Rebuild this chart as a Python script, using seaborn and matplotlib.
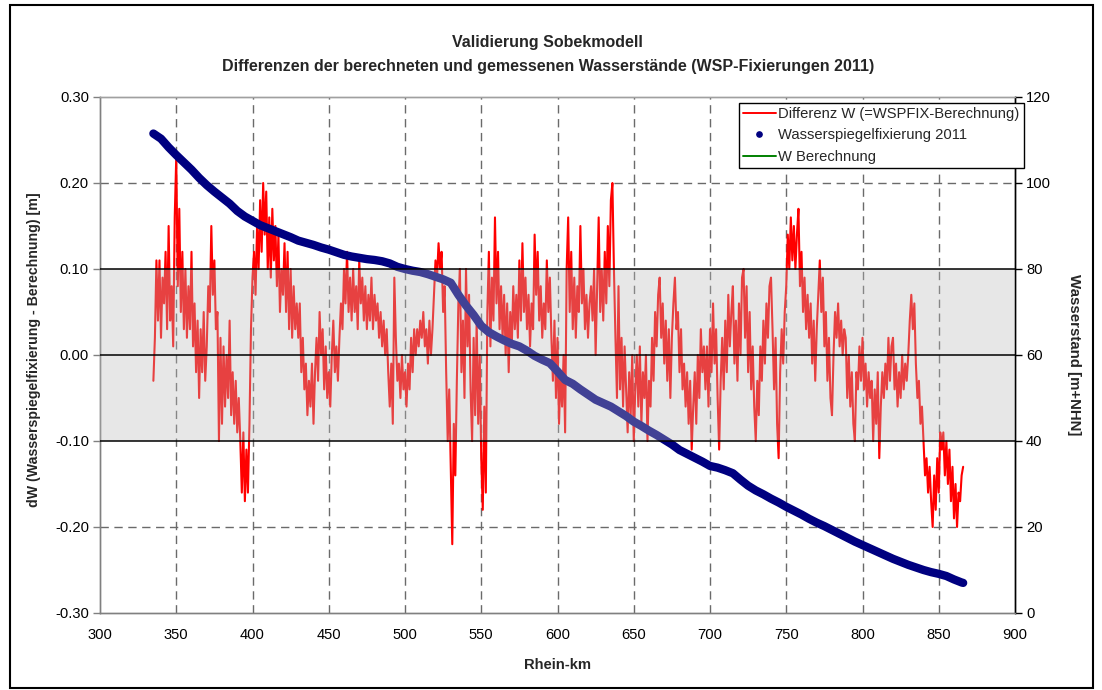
import numpy as np
import pandas as pd
import matplotlib
matplotlib.use("Agg")
import matplotlib.pyplot as plt
import seaborn as sns
from matplotlib.lines import Line2D
from matplotlib.patches import Rectangle
from matplotlib.transforms import blended_transform_factory

# Differenz W (=WSPFIX - Berechnung) [m], one value per Rhein-km, split in stretches
dw_start_a = 335
dw_a = [-0.03, 0.02, 0.11, 0.04, 0.11, 0.02, 0.09, 0.06, 0.12, 0.03,
        0.15, 0.04, 0.08, 0.01, 0.16, 0.23, 0.08, 0.17, 0.05, 0.12,
        0.03, 0.10, 0.02, 0.08, 0.03, 0.12, 0.01, 0.06, -0.02, 0.04,
        -0.05, 0.03, -0.02, 0.05, -0.03, 0.01, 0.08, 0.05, 0.15, 0.07,
        0.11, 0.03, 0.05, -0.10, 0.02, -0.08, 0.01, -0.06, 0.00, -0.05,
        0.04, -0.07, -0.02, -0.08, -0.03, -0.09, -0.05, -0.10, -0.16, -0.09,
        -0.17, -0.11, -0.16, -0.08, 0.03, 0.09, 0.12, 0.07, 0.15, 0.10,
        0.18, 0.12, 0.20, 0.14, 0.19, 0.10, 0.16, 0.09, 0.17, 0.11,
        0.15, 0.08, 0.14, 0.05, 0.10, 0.07]

dw_start_b = 421
dw_b = [0.13, 0.05, 0.12, 0.03, 0.10, 0.02, 0.08, 0.03, 0.06, 0.02,
        0.06, -0.02, 0.02, -0.04, -0.01, -0.07, -0.03, -0.06, -0.01, -0.08,
        -0.02, 0.02, -0.03, 0.05, 0.00, 0.03, -0.04, 0.01, -0.05, -0.02,
        -0.06, 0.00, 0.04, -0.02, 0.01, -0.03, 0.02, 0.06, 0.03, 0.10,
        0.06, 0.12, 0.05, 0.09, 0.04, 0.10, 0.05, 0.08, 0.03, 0.11,
        0.06, 0.09, 0.04, 0.08, 0.03, 0.07, 0.04, 0.09, 0.03, 0.07,
        0.04, 0.06, 0.02, 0.05, 0.01, 0.04, 0.00, 0.03, -0.02, -0.06,
        -0.01, -0.08, 0.09, 0.02, -0.03, -0.01, -0.05, 0.00, -0.04, -0.02,
        -0.06, -0.01, -0.04, 0.02, -0.02, 0.03, 0.00, 0.03, 0.01, 0.04,
        0.02, 0.05, 0.01]

dw_start_c = 514
dw_c = [0.03, -0.01, 0.04, 0.00, 0.03, 0.07, 0.11, 0.09, 0.13, 0.10,
        0.12, 0.05, 0.08, -0.02, -0.10, -0.04, -0.13, -0.22, -0.08, -0.14,
        -0.03, 0.06, 0.10, -0.02, 0.04, -0.05, 0.10, 0.01, 0.07, -0.04,
        -0.10, 0.02, -0.07, 0.04, -0.08, 0.00, -0.12, -0.18, -0.06, -0.16,
        0.05, 0.12, 0.01, 0.09, 0.04, 0.16, 0.06, 0.12, 0.03, 0.08,
        0.02, 0.07, 0.00, 0.06, -0.02, 0.05, 0.01, 0.08, 0.03, 0.07,
        0.02, 0.11, 0.04, 0.13, 0.05, 0.09, 0.03, 0.07, 0.01, 0.06,
        0.03, 0.14, 0.07, 0.12, 0.04, 0.08, 0.02, 0.06, 0.03, 0.11,
        0.05, 0.09, 0.02, -0.03, 0.04, -0.05, 0.02, -0.08, -0.02, -0.06,
        0.00, -0.09]

dw_start_d = 606
dw_d = [0.10, 0.16, 0.05, 0.12, 0.03, 0.09, 0.02, 0.08, 0.05, 0.15,
        0.06, 0.10, 0.03, 0.07, 0.02, 0.06, 0.08, 0.04, 0.10, 0.00,
        0.08, 0.16, 0.05, 0.10, 0.04, 0.12, 0.06, 0.15, 0.08, 0.18,
        0.20, 0.10, 0.02, -0.05, 0.08, -0.04, 0.02, -0.06, 0.01, -0.04,
        -0.09, -0.02, -0.07, 0.00, -0.10, -0.04, 0.00, -0.06, 0.01, -0.08,
        -0.02, -0.05, 0.00, -0.10, -0.03, -0.06, 0.02, -0.03, 0.05, 0.01,
        0.07, 0.09, 0.02, 0.06, -0.01, 0.04, -0.03, 0.03, -0.05, 0.02,
        0.06, 0.09, 0.03, 0.05, -0.02, 0.03, -0.04, -0.01, -0.06, -0.02,
        -0.08, -0.03, -0.11, -0.06, -0.02, -0.08, 0.00, -0.05, 0.03, -0.02,
        0.01, -0.04]

dw_start_e = 698
dw_e = [0.01, -0.06, 0.03, -0.02, 0.06, -0.01, 0.03, -0.05, -0.11, -0.03,
        0.02, -0.04, 0.04, -0.02, 0.07, 0.01, 0.05, 0.08, -0.01, 0.04,
        -0.03, 0.06, 0.00, 0.09, 0.10, 0.02, 0.08, -0.02, 0.05, -0.04,
        0.01, -0.06, -0.10, -0.03, -0.07, 0.01, -0.03, 0.04, -0.01, 0.06,
        0.02, 0.08, 0.09, 0.03, -0.04, 0.02, -0.08, -0.12, -0.02, 0.03,
        -0.01, 0.05, 0.08, 0.14, 0.10, 0.16, 0.11, 0.15, 0.10, 0.14,
        0.17, 0.08, 0.12, 0.05, 0.09, 0.03, 0.07, 0.02, 0.06, -0.01,
        0.04, -0.03, 0.03, 0.07, 0.11, 0.05, 0.09, 0.01, 0.05, -0.03,
        0.02, -0.05, -0.07, 0.00, 0.05, 0.02, 0.06, 0.01, 0.04, 0.00,
        0.03]

dw_start_f = 789
dw_f = [0.02, -0.05, 0.00, -0.06, -0.02, -0.08, -0.10, -0.02, -0.04, 0.01,
        -0.03, 0.02, -0.04, -0.01, -0.06, -0.02, -0.05, -0.03, -0.10, -0.04,
        -0.08, -0.02, -0.12, -0.06, -0.02, -0.05, -0.01, -0.04, 0.02, -0.03,
        0.01, 0.02, -0.04, -0.01, -0.06, -0.02, -0.05, 0.00, -0.04, -0.01,
        -0.03, 0.00, 0.04, 0.07, 0.03, 0.06, -0.01, -0.05, -0.03, -0.08,
        -0.06, -0.10, -0.14, -0.12, -0.16, -0.13, -0.17, -0.20, -0.14, -0.18,
        -0.12, -0.16, -0.09, -0.11, -0.09, -0.14, -0.10, -0.15, -0.11, -0.17,
        -0.13, -0.19, -0.15, -0.20, -0.16, -0.17, -0.14, -0.13]

# Wasserspiegelfixierung 2011 [m+NHN]
km_fix = [335, 340, 345, 350, 355, 360, 365, 370, 375, 380, 385, 390, 395, 400,
          405, 410, 415, 420, 425, 430, 435, 440, 445, 450, 455, 460, 465, 470,
          475, 480, 485, 490, 495, 500, 505, 510, 515, 520, 525, 530, 535, 540,
          545, 550, 555, 560, 565, 570, 575, 580, 585, 590, 595, 600, 605, 610,
          615, 620, 625, 630, 635, 640, 645, 650, 655, 660, 665, 670, 675, 680,
          685, 690, 695, 700, 705, 710, 715, 720, 725, 730, 735, 740, 745, 750,
          755, 760, 765, 770, 775, 780, 785, 790, 795, 800, 805, 810, 815, 820,
          825, 830, 835, 840, 845, 850, 855, 860, 865, 866]
w_fix = [111.5, 110.3, 108.3, 106.5, 104.8, 103.1, 101.2, 99.5, 98.0, 96.6,
         95.2, 93.5, 92.2, 91.2, 90.2, 89.5, 88.8, 88.1, 87.4, 86.6, 86.1,
         85.6, 85.0, 84.5, 83.9, 83.3, 82.9, 82.6, 82.3, 82.1, 81.8, 81.3,
         80.5, 80.0, 79.6, 79.3, 78.8, 78.2, 77.6, 76.8, 74.0, 71.5, 69.3,
         66.8, 65.3, 64.3, 63.4, 62.6, 62.0, 61.0, 59.8, 58.9, 58.1, 56.2,
         54.2, 53.3, 52.0, 50.8, 49.6, 48.8, 48.0, 46.9, 45.8, 44.5, 43.5,
         42.4, 41.4, 40.3, 39.2, 37.9, 37.0, 36.1, 35.2, 34.2, 33.8, 33.2,
         32.5, 31.0, 29.6, 28.5, 27.6, 26.6, 25.7, 24.7, 23.8, 22.9, 21.9,
         21.0, 20.2, 19.3, 18.4, 17.5, 16.6, 15.8, 15.0, 14.2, 13.4, 12.6,
         11.9, 11.2, 10.6, 10.0, 9.5, 9.1, 8.6, 7.8, 7.1, 7.0]

title_lines = ["Validierung Sobekmodell",
               "Differenzen der berechneten und gemessenen Wasserstände (WSP-Fixierungen 2011)"]
label_dw = "Differenz W (=WSPFIX-Berechnung)"
label_fix = "Wasserspiegelfixierung 2011"
label_calc = "W Berechnung"

# ---- assemble tables -------------------------------------------------------
segments = [(dw_start_a, dw_a), (dw_start_b, dw_b), (dw_start_c, dw_c),
            (dw_start_d, dw_d), (dw_start_e, dw_e), (dw_start_f, dw_f)]
dw_df = pd.concat(
    [pd.DataFrame({"km": start + np.arange(len(vals)), "dW": vals}) for start, vals in segments],
    ignore_index=True)
fix_df = pd.DataFrame({"km": km_fix, "W": w_fix})

sns.set_theme(style="white")
plt.rcParams["font.family"] = ["Liberation Sans", "DejaVu Sans"]

fig = plt.figure(figsize=(11.02, 6.9), dpi=100)
ax = fig.add_axes([100 / 1102, 77 / 690, 915 / 1102, 516 / 690])
ax2 = ax.twinx()

# grid (dashed) underneath the series
for xv in range(350, 900, 50):
    ax.axvline(xv, color="#6a6a6a", lw=1.0, ls=(0, (6, 4)), zorder=0.5)
for yv in (-0.2, 0.2):
    ax.axhline(yv, color="#6a6a6a", lw=1.0, ls=(0, (6, 4)), zorder=0.5)

sns.lineplot(data=dw_df, x="km", y="dW", ax=ax, color="#ff0000", lw=1.5,
             legend=False, zorder=2, estimator=None)

# computed water level and the fixation points on the right axis
sns.lineplot(data=fix_df, x="km", y="W", ax=ax2, color="#008000", lw=1.0,
             legend=False, estimator=None, zorder=1)
sns.lineplot(data=fix_df, x="km", y="W", ax=ax2, color="#000080", lw=6.0,
             legend=False, estimator=None, zorder=2, solid_capstyle="round")

# tolerance band ±0.10 m laid over all series
tr = blended_transform_factory(ax.transAxes, ax.transData)
band = Rectangle((0, -0.1), 1, 0.2, transform=tr, facecolor="#bdbdbd",
                 alpha=0.35, edgecolor="none", zorder=5)
ax2.add_patch(band)
for yv in (-0.1, 0.0, 0.1):
    ax2.add_line(Line2D([0, 1], [yv, yv], transform=tr, color="black", lw=1.1, zorder=6))

ax.set_xlim(300, 900)
ax.set_ylim(-0.3, 0.3)
ax2.set_ylim(0, 120)
ax.set_xticks(range(300, 901, 50))
ax.set_yticks(np.round(np.arange(-0.3, 0.31, 0.1), 2))
ax.set_yticklabels([f"{v:.2f}" for v in np.arange(-0.3, 0.31, 0.1)])
ax2.set_yticks(range(0, 121, 20))

for a in (ax, ax2):
    a.tick_params(axis="both", labelsize=10.6, colors="black", length=5, width=1,
                  direction="out", pad=3)
    for s in a.spines.values():
        s.set_linewidth(1.0)
    a.spines["top"].set_color("#a0a0a0")
    a.spines["left"].set_color("#808080")
    a.spines["bottom"].set_color("#808080")
    a.spines["right"].set_color("black")
ax.tick_params(axis="x", length=0, pad=11)
ax.tick_params(axis="y", color="#808080")

ax.set_xlabel("Rhein-km", fontsize=10.6, fontweight="bold")
ax.xaxis.set_label_coords(0.5, -0.088)
ax.set_ylabel("dW (Wasserspiegelfixierung - Berechnung) [m]", fontsize=10.2,
              fontweight="bold")
ax.yaxis.set_label_coords(-0.064, 0.51)
ax2.set_ylabel("Wasserstand [m+NHN]", fontsize=10.8, fontweight="bold",
               rotation=270, va="center")
ax2.yaxis.set_label_coords(1.0645, 0.5)

fig.text(0.497, 1 - 42 / 690, title_lines[0], ha="center", va="center",
         fontsize=11.5, fontweight="bold")
fig.text(0.497, 1 - 66 / 690, title_lines[1], ha="center", va="center",
         fontsize=11.5, fontweight="bold")

handles = [Line2D([], [], color="#ff0000", lw=1.4),
           Line2D([], [], color="#000080", marker="o", ms=3.8, ls="none"),
           Line2D([], [], color="#008000", lw=1.4)]
leg = ax2.legend(handles, [label_dw, label_fix, label_calc], loc="upper right",
                 bbox_to_anchor=(1.01, 0.989), fontsize=10.6, frameon=True,
                 fancybox=False, edgecolor="black", framealpha=1,
                 handlelength=2.2, handletextpad=0.2, borderpad=0.3,
                 labelspacing=0.5, borderaxespad=0.0)
leg.get_frame().set_linewidth(1.0)
leg.set_zorder(10)

# outer chart border
fig.patches.append(Rectangle((10 / 1102, 2 / 690), 1083 / 1102, 683 / 690,
                             transform=fig.transFigure, fill=False,
                             edgecolor="black", lw=1.5))

fig.savefig("out.png", dpi=100)
